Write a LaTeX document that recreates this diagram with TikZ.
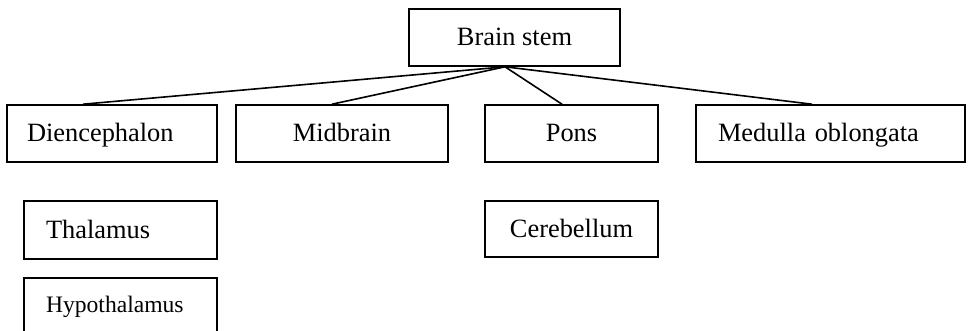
\documentclass[tikz,border=0pt]{standalone}
\usepackage{fontspec}
\setmainfont{Liberation Serif}
\usepackage{tikz}
\usetikzlibrary{positioning}
\tikzstyle{part} = [draw, line width=0.8pt, inner sep=0pt, minimum height=28.5pt, text height=10.5pt, text depth=2pt, font=\fontsize{13.2}{15}\selectfont]
\tikzstyle{leftpart} = [part, align=left, inner xsep=10pt]
\tikzstyle{link} = [line width=0.8pt]

\begin{document}
\begin{tikzpicture}[x=0.5pt, y=-0.5pt]
\clip (0,0) rectangle (968,331);

% Top
\node[part, minimum width=105.5pt] (stem) at (514.5,37.5) {Brain stem};

% Parts of the brain stem
\node[leftpart, text width=85pt] (dien) at (112,133.5) {Diencephalon};
\node[part, minimum width=106pt] (mid) at (342,133.5) {Midbrain};
\node[part, minimum width=86.5pt] (pons) at (571.5,133.5) {Pons};
\node[leftpart, inner xsep=11pt, text width=112.5pt] (medulla) at (830.5,133.5) {Medulla oblongata};

% Lower row
\node[leftpart, inner xsep=11pt, text width=74.5pt, minimum height=29pt] (thal) at (120.5,230) {Thalamus};
\node[leftpart, inner xsep=11pt, text width=74.5pt, minimum height=29pt,
      text height=9pt, text depth=4pt, font=\fontsize{11.8}{14}\selectfont] (hypo) at (120.5,307) {Hypothalamus};
\node[part, minimum width=86.5pt, minimum height=28pt] (cereb) at (571.5,229) {Cerebellum};

% Links
\coordinate (hub) at ([xshift=-4.75pt]stem.south);
\draw[link] (hub) -- ([xshift=-14.5pt]dien.north);
\draw[link] (hub) -- ([xshift=-5pt]mid.north);
\draw[link] (hub) -- ([xshift=-4.75pt]pons.north);
\draw[link] (hub) -- ([xshift=-9.25pt]medulla.north);
\end{tikzpicture}
\end{document}
